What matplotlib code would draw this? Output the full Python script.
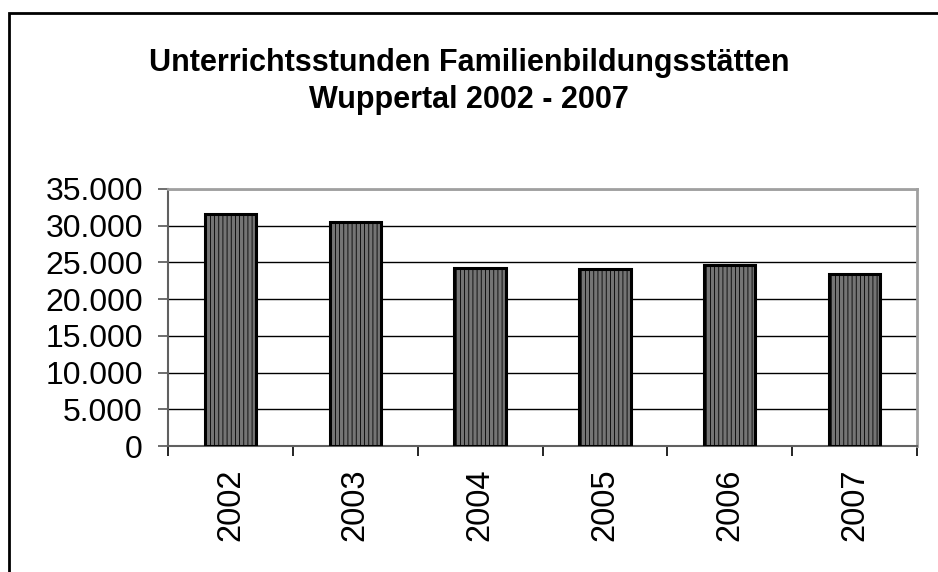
import matplotlib
matplotlib.use("Agg")
import matplotlib.pyplot as plt
from matplotlib.patches import Rectangle
from matplotlib.ticker import FuncFormatter, FixedLocator

jahre = ["2002", "2003", "2004", "2005", "2006", "2007"]
stunden = [31600, 30500, 24200, 24150, 24700, 23380]
y_ticks = [0, 5000, 10000, 15000, 20000, 25000, 30000, 35000]

plt.rcParams['font.family'] = ['Liberation Sans', 'DejaVu Sans']
plt.rcParams['hatch.color'] = '#4a4a4a'
plt.rcParams['hatch.linewidth'] = 0.6

fig = plt.figure(figsize=(9.38, 5.72), dpi=100)
ax = fig.add_axes([168/938, 1-446/572, (917-168)/938, (446-189)/572])

x = list(range(len(jahre)))
ax.bar(x, stunden, width=0.41, color='#747474', edgecolor='black',
       linewidth=2.2, hatch='||||', zorder=3)

ax.set_xlim(-0.5, len(jahre)-0.5)
ax.set_ylim(0, 35000)
ax.set_yticks(y_ticks)
ax.yaxis.set_major_formatter(FuncFormatter(lambda v, p: f"{int(v):,}".replace(",", ".")))
ax.grid(axis='y', color='black', linewidth=1.0, zorder=1)

ax.set_xticks(x)
ax.set_xticklabels(jahre, rotation=90)
ax.xaxis.set_minor_locator(FixedLocator([i-0.5 for i in range(len(jahre)+1)]))
ax.tick_params(axis='x', which='major', length=0, pad=16, labelsize=23.5)
ax.tick_params(axis='x', which='minor', length=7, width=1.2, color='black')
ax.tick_params(axis='y', length=7, width=1.2, color='#555555', pad=11, labelsize=23)

for s in ['left', 'bottom']:
    ax.spines[s].set_color('#606060')
    ax.spines[s].set_linewidth(1.5)
for s in ['top', 'right']:
    ax.spines[s].set_color('#a0a0a0')
    ax.spines[s].set_linewidth(2)

fig.text(0.5, 1-63/572, "Unterrichtsstunden Familienbildungsstätten",
         ha='center', va='center', fontsize=22, fontweight='bold')
fig.text(0.5, 1-100/572, "Wuppertal 2002 - 2007",
         ha='center', va='center', fontsize=22, fontweight='bold')

# Rahmen um das Diagramm
fig.patches.append(Rectangle((9/938, -0.1), 1.2, 1.1 - 13/572,
                             transform=fig.transFigure, fill=False,
                             edgecolor='black', linewidth=2))

fig.savefig("out.png", dpi=100)
